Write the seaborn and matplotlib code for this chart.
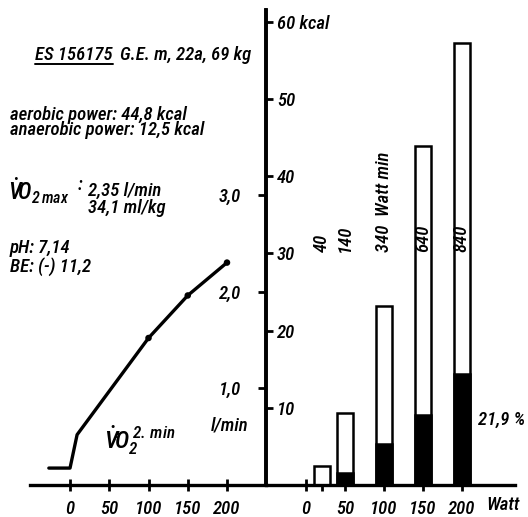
import matplotlib
matplotlib.use('Agg')
import matplotlib.pyplot as plt
import seaborn as sns
from matplotlib.lines import Line2D
from matplotlib import font_manager as fm

# ---------------- data ----------------
vo2_watt = [-27, 0, 9, 100, 150, 200]
vo2_lmin = [0.175, 0.175, 0.52, 1.52, 1.96, 2.30]
vo2_marker_watt = [100, 150, 200]
vo2_marker_lmin = [1.52, 1.96, 2.30]

bar_watt = [20, 50, 100, 150, 200]
bar_total_kcal = [2.5, 9.3, 23.2, 43.9, 57.3]
bar_anaerobic_kcal = [0.0, 1.55, 5.3, 9.1, 14.4]
bar_work_labels = ['40', '140', '340  Watt min', '640', '840']

left_xticks = [0, 50, 100, 150, 200]
left_xticklabels = ['0', '50', '100', '150', '200']
left_yticks = [1.0, 2.0, 3.0]
left_yticklabels = ['1,0', '2,0', '3,0']
right_xticks = [0, 20, 50, 100, 150, 200]
right_xticklabels = ['0', '', '50', '100', '150', '200']
right_yticks = [10, 20, 30, 40, 50, 60]
right_yticklabels = ['10', '20', '30', '40', '50', '60 kcal']

# ---------------- style ----------------
sns.set_style('white')
installed = {f.name for f in fm.fontManager.ttflist}
cands = ['Roboto Condensed', 'DejaVu Sans Condensed', 'Liberation Sans Narrow', 'DejaVu Sans']
fams = [c for c in cands if c in installed] or ['DejaVu Sans']
MAIN = fams[0]
plt.rcParams['font.family'] = fams + (['DejaVu Sans'] if 'DejaVu Sans' not in fams else [])
plt.rcParams['font.style'] = 'italic'
plt.rcParams['font.weight'] = 'medium'
plt.rcParams['font.stretch'] = 'condensed'
plt.rcParams['mathtext.fontset'] = 'custom'
plt.rcParams['mathtext.rm'] = MAIN + ':italic:medium'
plt.rcParams['mathtext.it'] = MAIN + ':italic:medium'
for k in ['text.color', 'axes.labelcolor', 'xtick.color', 'ytick.color', 'axes.edgecolor']:
    plt.rcParams[k] = 'black'
FS = 13.5 if MAIN != 'DejaVu Sans' else 10.5

W, H = 528, 517
fig = plt.figure(figsize=(W / 100, H / 100), dpi=100)

def fx(px):
    return px / W

def fy(py):
    return 1 - py / H

# left axes: VO2 (l/min) vs Watt
axl = fig.add_axes([fx(30), fy(485), 236 / W, 475 / H])
axl.set_facecolor('none')
sns.lineplot(x=vo2_watt, y=vo2_lmin, sort=False, color='black', linewidth=2.4, ax=axl)
sns.scatterplot(x=vo2_marker_watt, y=vo2_marker_lmin, color='black', s=22, ax=axl, zorder=4, edgecolor='none')
axl.set_xlim(-51, 249.7)
axl.set_ylim(0, 475 / 96.7)
for s in ['top', 'right']:
    axl.spines[s].set_visible(False)
axl.spines['left'].set_position(('axes', 1.0))
axl.spines['left'].set_linewidth(2.6)
axl.spines['bottom'].set_linewidth(2.4)
axl.set_xticks(left_xticks)
axl.set_xticklabels(left_xticklabels)
axl.set_yticks(left_yticks)
axl.set_yticklabels(left_yticklabels)
axl.tick_params(axis='y', direction='out', length=6, width=2, pad=12, labelsize=FS, left=True)
axl.tick_params(axis='x', direction='inout', length=9, width=2, pad=6.5, labelsize=FS, bottom=True)

# right axes: energy (kcal) bars vs Watt
axr = fig.add_axes([fx(266), fy(485), 249 / W, 475 / H])
axr.set_facecolor('none')
sns.barplot(x=bar_watt, y=bar_total_kcal, native_scale=True, width=0.683, color='white',
            saturation=1, edgecolor='black', linewidth=1.8, errorbar=None, ax=axr)
sns.barplot(x=bar_watt, y=bar_anaerobic_kcal, native_scale=True, width=0.683, color='black',
            saturation=1, edgecolor='black', linewidth=1.8, errorbar=None, ax=axr)
axr.set_xlim(-51.3, 268)
axr.set_ylim(0, 475 / 7.717)
for s in ['top', 'left']:
    axr.spines[s].set_visible(False)
axr.yaxis.tick_right()
axr.spines['right'].set_position(('axes', 0.0))
axr.spines['right'].set_linewidth(2.6)
axr.spines['bottom'].set_linewidth(2.4)
axr.set_xticks(right_xticks)
axr.set_xticklabels(right_xticklabels)
axr.set_yticks(right_yticks)
axr.set_yticklabels(right_yticklabels)
axr.tick_params(axis='y', direction='out', length=5, width=2, pad=3, labelsize=FS, right=True)
axr.tick_params(axis='x', direction='inout', length=9, width=2, pad=6.5, labelsize=FS, bottom=True)
axr.set_xlabel('')
axr.set_ylabel('')

for w, lbl in zip(bar_watt, bar_work_labels):
    axr.text(w, 30.2, lbl, rotation=90, ha='center', va='bottom', fontsize=FS, zorder=5)

# ---------------- annotations ----------------
t_es = fig.text(fx(35), fy(55), 'ES 156175', fontsize=FS, va='center', ha='left')
fig.canvas.draw()
bb = t_es.get_window_extent()
x_end = bb.x1
fig.add_artist(Line2D([fx(35), x_end / W], [fy(64), fy(64)], color='black', lw=1.4))
fig.text((x_end + 7) / W, fy(55), 'G.E. m, 22a, 69 kg', fontsize=FS, va='center', ha='left')
fig.text(fx(10), fy(122.5), 'aerobic power: 44,8 kcal\nanaerobic power: 12,5 kcal',
         fontsize=FS, va='center', ha='left', linespacing=0.85)
fig.text(fx(8), fy(191), r'$\dot{V}\!O_{2\,max}$', fontsize=FS + 3, va='center', ha='left')
fig.text(fx(78), fy(185), ':', fontsize=FS, va='center', ha='left')
fig.text(fx(88), fy(199), '2,35 l/min\n34,1 ml/kg', fontsize=FS, va='center', ha='left',
         linespacing=0.95)
fig.text(fx(10), fy(257.5), 'pH: 7,14\nBE: (-) 11,2', fontsize=FS, va='center', ha='left',
         linespacing=0.95)
fig.text(fx(230), fy(425), 'l/min', fontsize=FS, va='center', ha='center')
fig.text(fx(104), fy(440), r'$\dot{V}\!O_2^{\,2.\,min}$', fontsize=FS + 4, va='center', ha='left')
fig.text(fx(486), fy(505), 'Watt', fontsize=FS, va='center', ha='left')
fig.text(fx(478), fy(420), '21,9 %', fontsize=FS, va='center', ha='left')

fig.savefig('out.png', dpi=100)
